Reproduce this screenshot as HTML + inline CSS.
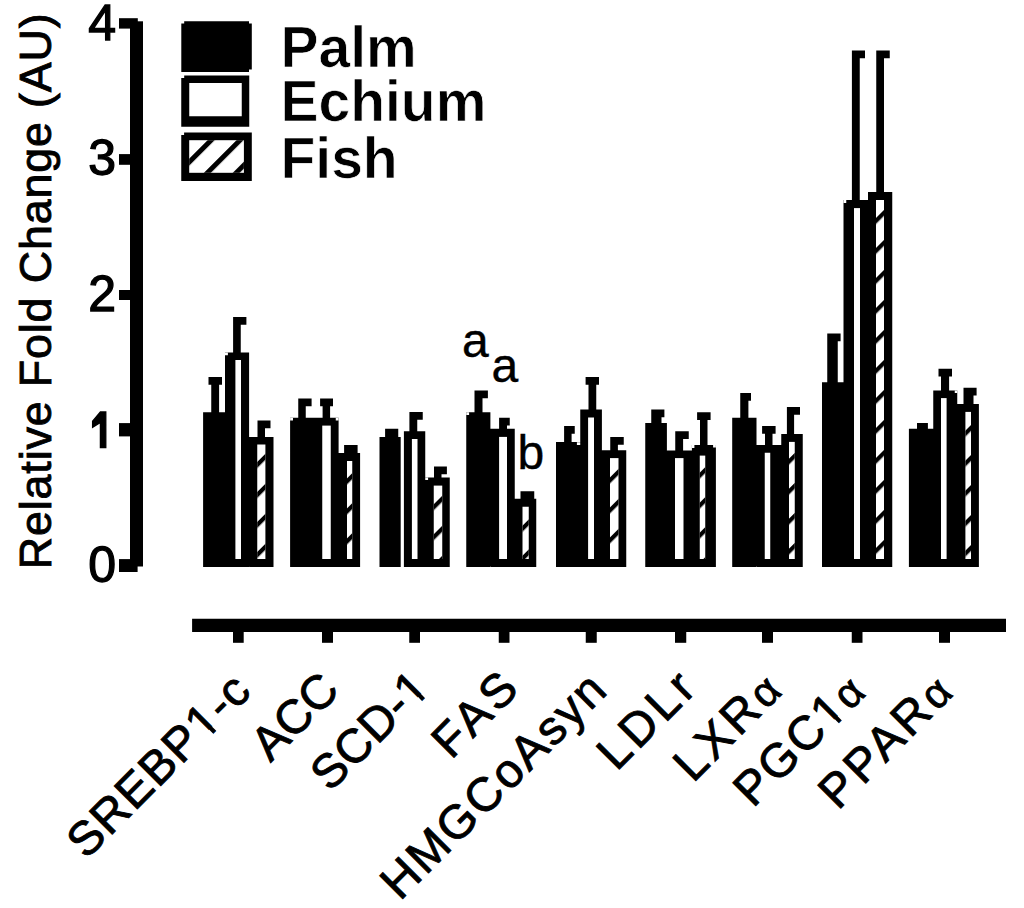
<!DOCTYPE html>
<html><head><meta charset="utf-8"><style>
html,body{margin:0;padding:0;background:#fff;}
svg{display:block;}
text{font-family:"Liberation Sans", sans-serif;}
</style></head><body>
<svg width="1024" height="908" viewBox="0 0 1024 908">
<defs>
<pattern id="h0" patternUnits="userSpaceOnUse" width="21.213" height="10" patternTransform="rotate(45) translate(508.573,0)"><rect x="0" y="0" width="4.2" height="10" fill="#000"/></pattern>
<pattern id="h1" patternUnits="userSpaceOnUse" width="21.213" height="10" patternTransform="rotate(45) translate(583.667,0)"><rect x="0" y="0" width="4.2" height="10" fill="#000"/></pattern>
<pattern id="h2" patternUnits="userSpaceOnUse" width="21.213" height="10" patternTransform="rotate(45) translate(663.287,0)"><rect x="0" y="0" width="4.2" height="10" fill="#000"/></pattern>
<pattern id="h3" patternUnits="userSpaceOnUse" width="21.213" height="10" patternTransform="rotate(45) translate(741.211,0)"><rect x="0" y="0" width="4.2" height="10" fill="#000"/></pattern>
<pattern id="h4" patternUnits="userSpaceOnUse" width="21.213" height="10" patternTransform="rotate(45) translate(768.929,0)"><rect x="0" y="0" width="4.2" height="10" fill="#000"/></pattern>
<pattern id="h5" patternUnits="userSpaceOnUse" width="21.213" height="10" patternTransform="rotate(45) translate(829.033,0)"><rect x="0" y="0" width="4.2" height="10" fill="#000"/></pattern>
<pattern id="h6" patternUnits="userSpaceOnUse" width="21.213" height="10" patternTransform="rotate(45) translate(882.208,0)"><rect x="0" y="0" width="4.2" height="10" fill="#000"/></pattern>
<pattern id="h7" patternUnits="userSpaceOnUse" width="21.213" height="10" patternTransform="rotate(45) translate(943.231,0)"><rect x="0" y="0" width="4.2" height="10" fill="#000"/></pattern>
<pattern id="h8" patternUnits="userSpaceOnUse" width="21.213" height="10" patternTransform="rotate(45) translate(987.142,0)"><rect x="0" y="0" width="4.2" height="10" fill="#000"/></pattern>
<pattern id="hl" patternUnits="userSpaceOnUse" width="20.435" height="10" patternTransform="rotate(45) translate(0.682,0)"><rect x="0" y="0" width="5" height="10" fill="#000"/></pattern>
</defs>
<rect x="0" y="0" width="1024" height="908" fill="#fff"/>
<!-- y axis -->
<rect x="130" y="21.3" width="13" height="545.2" fill="#000"/>
<rect x="119" y="18.2" width="18.8" height="10.4" fill="#000"/>
<rect x="119" y="154.1" width="11" height="10.7" fill="#000"/>
<rect x="119" y="290" width="11" height="10" fill="#000"/>
<rect x="119" y="423.1" width="11" height="13.3" fill="#000"/>
<rect x="119" y="559.1" width="18.6" height="12.9" fill="#000"/>
<g font-size="50" text-anchor="end" fill="#000" stroke="#000" stroke-width="1.3">
<text x="116" y="39.8">4</text>
<text x="116" y="175">3</text>
<text x="116" y="310.8">2</text>
<text x="116" y="581.5">0</text>
</g>
<path d="M100.4,412 H105.8 V447.5 H100.4 V422.5 L92.6,427.3 V421.3 Z" fill="#000" stroke="#000" stroke-width="1.3"/>
<text transform="translate(51,569.2) rotate(-90)" font-size="44.8" textLength="555.9" lengthAdjust="spacing" fill="#000" stroke="#000" stroke-width="0.9">Relative Fold Change (AU)</text>
<!-- legend -->
<path fill="#000" d="M184.2,21.2H249V23.4H251.8V69.5H249V71.9H181.3V23.4H184.2Z"/>
<path fill="#000" d="M184.2,75.4H249.25V126.75H181.25V78.1H184.2Z"/>
<rect x="189.25" y="83" width="52.5" height="33.25" fill="#fff"/>
<path fill="#000" d="M184.1,132.4H251.8V181H181.25V135H184.1Z"/>
<rect x="189.2" y="140.2" width="54.7" height="32.6" fill="#fff"/>
<rect x="189.2" y="140.2" width="54.7" height="32.6" fill="url(#hl)"/>
<g font-size="57" font-weight="bold" fill="#000" stroke="#fff" stroke-width="0.7">
<text x="280.5" y="67.1">Palm</text>
<text x="280.5" y="121.1">Echium</text>
<text x="280.5" y="178">Fish</text>
</g>
<!-- bars -->
<path fill="#000" d="M211.25,377.10H219.10V412.75H211.25ZM208.50,377.10H222.00V384.85H208.50ZM203.10,412.25H225.00V567.00H203.10ZM233.10,317.10H240.75V353.00H233.10ZM233.10,317.10H246.40V324.85H233.10ZM225.00,352.50H249.10V567.00H225.00ZM257.50,420.50H265.00V437.50H257.50ZM257.50,420.50H270.50V428.25H257.50ZM249.10,437.00H273.50V567.00H249.10ZM298.25,398.40H305.75V418.25H298.25ZM298.25,398.40H311.60V406.15H298.25ZM290.10,417.75H314.00V567.00H290.10ZM322.60,398.40H330.10V418.25H322.60ZM320.10,398.40H333.00V406.15H320.10ZM314.00,417.75H338.60V567.00H314.00ZM344.10,445.00H357.60V453.60H344.10ZM344.10,445.00H357.60V452.75H344.10ZM338.60,453.10H360.10V567.00H338.60ZM385.10,428.75H398.25V437.40H385.10ZM385.10,428.75H398.25V436.50H385.10ZM379.50,436.90H400.70V567.00H379.50ZM409.40,412.10H417.25V431.75H409.40ZM409.40,412.10H422.75V419.85H409.40ZM403.90,431.25H425.25V567.00H403.90ZM434.00,466.50H441.50V478.00H434.00ZM434.00,466.50H446.90V474.25H434.00ZM425.25,477.50H449.75V567.00H425.25ZM474.50,390.60H482.50V412.75H474.50ZM474.50,390.60H487.90V398.35H474.50ZM466.25,412.25H490.40V567.00H466.25ZM499.10,417.75H507.00V429.25H499.10ZM499.10,417.75H509.75V425.50H499.10ZM490.40,428.75H514.75V567.00H490.40ZM520.50,491.25H534.25V499.25H520.50ZM520.50,491.25H534.25V499.00H520.50ZM514.75,498.75H536.25V567.00H514.75ZM564.10,426.00H571.60V442.50H564.10ZM564.10,426.00H574.75V433.75H564.10ZM556.00,442.00H580.25V567.00H556.00ZM588.50,376.90H596.25V410.10H588.50ZM585.60,376.90H599.00V384.65H585.60ZM580.25,409.60H601.90V567.00H580.25ZM610.25,436.90H617.90V450.75H610.25ZM610.25,436.90H623.75V444.65H610.25ZM601.90,450.25H626.25V567.00H601.90ZM651.25,409.50H661.50V423.60H651.25ZM651.25,409.50H664.40V417.25H651.25ZM645.25,423.10H666.90V567.00H645.25ZM675.25,431.25H683.10V450.90H675.25ZM675.25,431.25H688.75V439.00H675.25ZM666.90,450.40H691.90V567.00H666.90ZM700.00,412.25H707.50V445.50H700.00ZM697.10,412.25H710.60V420.00H697.10ZM691.90,445.00H715.90V567.00H691.90ZM740.25,392.90H748.40V418.25H740.25ZM740.25,392.90H751.00V400.65H740.25ZM732.20,417.75H756.50V567.00H732.20ZM765.00,426.00H772.50V445.50H765.00ZM762.10,426.00H775.60V433.75H762.10ZM756.50,445.00H781.25V567.00H756.50ZM786.90,406.90H794.10V434.50H786.90ZM786.90,406.90H800.00V414.65H786.90ZM781.25,434.00H802.75V567.00H781.25ZM827.25,333.40H837.75V382.75H827.25ZM827.25,333.40H840.60V341.15H827.25ZM822.00,382.25H843.50V567.00H822.00ZM851.90,50.60H859.75V200.50H851.90ZM851.90,50.60H865.00V58.35H851.90ZM843.50,200.00H868.00V567.00H843.50ZM876.25,50.60H884.00V192.60H876.25ZM876.25,50.60H889.75V58.35H876.25ZM868.00,192.10H892.25V567.00H868.00ZM917.00,423.10H927.90V429.25H917.00ZM917.00,423.10H927.90V430.85H917.00ZM908.90,428.75H933.25V567.00H908.90ZM941.00,368.75H949.10V391.10H941.00ZM938.50,368.75H952.00V376.50H938.50ZM933.25,390.60H957.25V567.00H933.25ZM963.50,387.75H973.50V404.60H963.50ZM963.50,387.75H976.60V395.50H963.50ZM957.25,404.10H978.90V567.00H957.25Z"/>
<rect x="235.40" y="360.00" width="5.60" height="199.00" fill="#fff"/>
<rect x="257.25" y="444.50" width="8.15" height="114.50" fill="#fff"/>
<rect x="257.25" y="444.50" width="8.15" height="114.50" fill="url(#h0)"/>
<rect x="322.25" y="425.60" width="8.50" height="133.40" fill="#fff"/>
<rect x="347.00" y="461.00" width="5.25" height="98.00" fill="#fff"/>
<rect x="347.00" y="461.00" width="5.25" height="98.00" fill="url(#h1)"/>
<rect x="411.90" y="439.00" width="5.60" height="120.00" fill="#fff"/>
<rect x="433.75" y="485.60" width="8.50" height="73.40" fill="#fff"/>
<rect x="433.75" y="485.60" width="8.50" height="73.40" fill="url(#h2)"/>
<rect x="499.10" y="436.90" width="7.90" height="122.10" fill="#fff"/>
<rect x="522.50" y="506.75" width="6.25" height="52.25" fill="#fff"/>
<rect x="522.50" y="506.75" width="6.25" height="52.25" fill="url(#h3)"/>
<rect x="588.10" y="417.50" width="5.90" height="141.50" fill="#fff"/>
<rect x="610.00" y="458.10" width="8.50" height="100.90" fill="#fff"/>
<rect x="610.00" y="458.10" width="8.50" height="100.90" fill="url(#h4)"/>
<rect x="675.00" y="458.10" width="8.50" height="100.90" fill="#fff"/>
<rect x="699.75" y="455.60" width="5.50" height="103.40" fill="#fff"/>
<rect x="699.75" y="455.60" width="5.50" height="103.40" fill="url(#h5)"/>
<rect x="764.75" y="452.75" width="5.50" height="106.25" fill="#fff"/>
<rect x="789.00" y="441.90" width="5.75" height="117.10" fill="#fff"/>
<rect x="789.00" y="441.90" width="5.75" height="117.10" fill="url(#h6)"/>
<rect x="854.00" y="208.10" width="6.00" height="350.90" fill="#fff"/>
<rect x="876.00" y="200.00" width="8.00" height="359.00" fill="#fff"/>
<rect x="876.00" y="200.00" width="8.00" height="359.00" fill="url(#h7)"/>
<rect x="941.00" y="398.10" width="5.60" height="160.90" fill="#fff"/>
<rect x="965.40" y="411.90" width="5.60" height="147.10" fill="#fff"/>
<rect x="965.40" y="411.90" width="5.60" height="147.10" fill="url(#h8)"/>
<path fill="#fff" d="M225.00,352.50H227.90V355.25H225.00ZM290.10,417.75H293.00V420.50H290.10ZM335.75,417.75H338.60V420.50H335.75ZM425.25,477.50H428.10V480.00H425.25ZM466.25,412.25H469.10V415.00H466.25ZM576.90,442.25H580.25V445.00H576.90ZM691.90,445.00H694.40V448.00H691.90ZM713.10,445.00H715.90V447.50H713.10ZM843.50,200.00H846.25V203.00H843.50ZM954.75,390.60H957.25V393.00H954.75Z"/>
<!-- annotations -->
<g font-size="48" fill="#000" stroke="#000" stroke-width="0.4">
<text x="462.1" y="357">a</text>
<text x="491.6" y="381.5">a</text>
<text x="517.6" y="468.5">b</text>
</g>
<!-- x axis -->
<rect x="192.1" y="618.75" width="813.9" height="13.25" fill="#000"/>
<rect x="233.00" y="632.00" width="10.70" height="10.80" fill="#000"/>
<rect x="322.00" y="632.00" width="11.00" height="10.80" fill="#000"/>
<rect x="409.25" y="632.00" width="10.75" height="10.80" fill="#000"/>
<rect x="498.75" y="632.00" width="10.75" height="10.80" fill="#000"/>
<rect x="585.75" y="632.00" width="11.00" height="10.80" fill="#000"/>
<rect x="675.00" y="632.00" width="11.25" height="10.80" fill="#000"/>
<rect x="762.00" y="632.00" width="11.00" height="10.80" fill="#000"/>
<rect x="851.75" y="632.00" width="10.75" height="10.80" fill="#000"/>
<rect x="939.00" y="632.00" width="11.00" height="10.80" fill="#000"/>
<g font-size="47.5" fill="#000" stroke="#000" stroke-width="0.9">
<g transform="translate(86.20,860.20) rotate(-45)"><text textLength="235.75" lengthAdjust="spacing" id="xl0">SREBP1-c</text><path d="M168.99,1.90H179.21V-5.25H168.99ZM183.41,1.90H193.27V-5.25H183.41Z" fill="#fff" stroke="none"/></g>
<g transform="translate(270.41,763.09) rotate(-45)"><text textLength="100.29" lengthAdjust="spacing" id="xl1">ACC</text></g>
<g transform="translate(329.95,792.65) rotate(-45)"><text textLength="144.39" lengthAdjust="spacing" id="xl2">SCD-1</text><path d="M119.69,1.90H129.91V-5.25H119.69ZM134.11,1.90H143.97V-5.25H134.11Z" fill="#fff" stroke="none"/></g>
<g transform="translate(451.20,760.30) rotate(-45)"><text textLength="97.81" lengthAdjust="spacing" id="xl3">FAS</text></g>
<g transform="translate(399.90,901.60) rotate(-45)"><text textLength="295.29" lengthAdjust="spacing" id="xl4">HMGCoAsyn</text></g>
<g transform="translate(616.51,771.99) rotate(-45)"><text textLength="114.69" lengthAdjust="spacing" id="xl5">LDLr</text></g>
<g transform="translate(692.92,783.58) rotate(-45)"><text textLength="127.84" lengthAdjust="spacing" id="xl6">LXR<tspan font-size="42">α</tspan></text></g>
<g transform="translate(753.08,808.42) rotate(-45)"><text textLength="161.53" lengthAdjust="spacing" id="xl7">PGC1<tspan font-size="42">α</tspan></text><path d="M110.58,1.90H120.80V-5.25H110.58ZM125.00,1.90H134.86V-5.25H125.00Z" fill="#fff" stroke="none"/></g>
<g transform="translate(838.01,810.99) rotate(-45)"><text textLength="164.53" lengthAdjust="spacing" id="xl8">PPAR<tspan font-size="42">α</tspan></text></g>
</g>
</svg>
</body></html>
